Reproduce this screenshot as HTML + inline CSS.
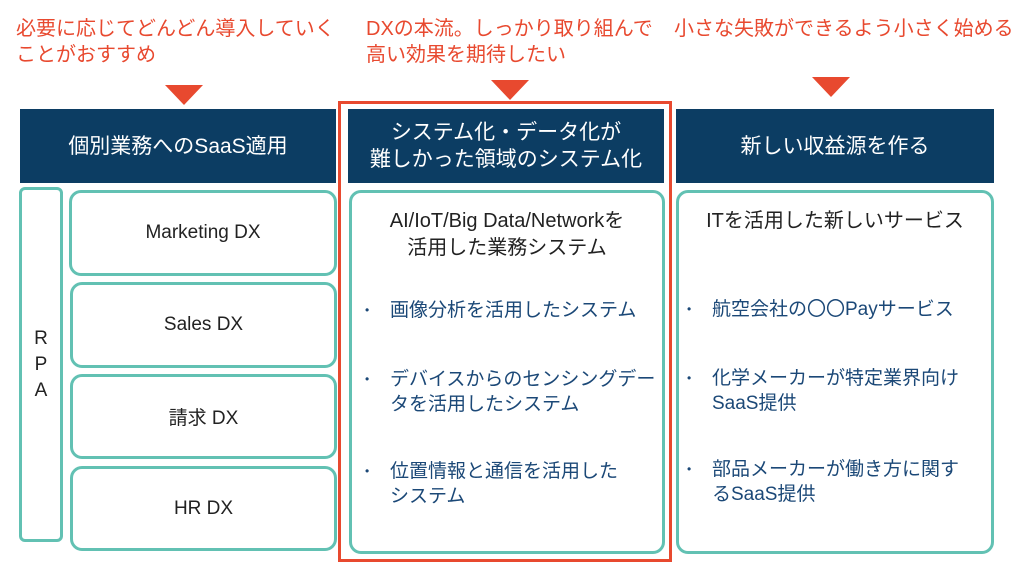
<!DOCTYPE html>
<html><head><meta charset="utf-8"><style>
body{margin:0;width:1024px;height:563px;background:#fff;position:relative;overflow:hidden;font-family:"Liberation Sans","Noto Sans CJK JP",sans-serif}
.a{position:absolute;box-sizing:border-box}
.red{color:#e8492f;font-size:20px;line-height:26px}
.tri{width:0;height:0;border-left:19px solid transparent;border-right:19px solid transparent;border-top:20px solid #e8492f}
.hd{background:#0c3d63;color:#fff;font-size:21px;display:flex;align-items:center;justify-content:center;text-align:center;line-height:27px}
.bx{border:3px solid #62c1b3;border-radius:12px;display:flex;align-items:center;justify-content:center;font-size:19px;color:#222}
.t{font-size:20px;color:#222;text-align:center;line-height:27px}
.b{font-size:19px;color:#1b4877;line-height:25px;white-space:nowrap}
.b span{position:absolute;left:-25px;font-size:12px}
</style></head><body>
<div class="a red" style="left:16px;top:16px">必要に応じてどんどん導入していく<br>ことがおすすめ</div>
<div class="a red" style="left:366px;top:16px">DXの本流。しっかり取り組んで<br>高い効果を期待したい</div>
<div class="a red" style="left:674px;top:16px">小さな失敗ができるよう小さく始める</div>
<div class="a tri" style="left:165px;top:85px"></div>
<div class="a tri" style="left:491px;top:80px"></div>
<div class="a tri" style="left:812px;top:77px"></div>
<div class="a hd" style="left:20px;top:109px;width:316px;height:74px">個別業務へのSaaS適用</div>
<div class="a hd" style="left:348px;top:109px;width:316px;height:74px">システム化・データ化が<br>難しかった領域のシステム化</div>
<div class="a hd" style="left:676px;top:109px;width:318px;height:74px">新しい収益源を作る</div>
<div class="a" style="left:338px;top:101px;width:334px;height:461px;border:3px solid #e8492f"></div>
<div class="a bx" style="left:19px;top:187px;width:44px;height:355px;border-radius:6px;line-height:26px;text-align:center">R<br>P<br>A</div>
<div class="a bx" style="left:69px;top:190px;width:268px;height:86px">Marketing DX</div>
<div class="a bx" style="left:70px;top:282px;width:267px;height:86px">Sales DX</div>
<div class="a bx" style="left:70px;top:374px;width:267px;height:85px">請求 DX</div>
<div class="a bx" style="left:70px;top:466px;width:267px;height:85px">HR DX</div>
<div class="a bx" style="left:349px;top:190px;width:316px;height:364px;display:block"></div>
<div class="a bx" style="left:676px;top:190px;width:318px;height:364px;display:block"></div>
<div class="a t" style="left:349px;top:208px;width:316px">AI/IoT/Big Data/Networkを<br>活用した業務システム</div>
<div class="a t" style="left:676px;top:208px;width:318px">ITを活用した新しいサービス</div>
<div class="a b" style="left:390px;top:298px"><span>•</span>画像分析を活用したシステム</div>
<div class="a b" style="left:390px;top:367px"><span>•</span>デバイスからのセンシングデー<br>タを活用したシステム</div>
<div class="a b" style="left:390px;top:459px"><span>•</span>位置情報と通信を活用した<br>システム</div>
<div class="a b" style="left:712px;top:297px"><span>•</span>航空会社の〇〇Payサービス</div>
<div class="a b" style="left:712px;top:366px"><span>•</span>化学メーカーが特定業界向け<br>SaaS提供</div>
<div class="a b" style="left:712px;top:457px"><span>•</span>部品メーカーが働き方に関す<br>るSaaS提供</div>
</body></html>
